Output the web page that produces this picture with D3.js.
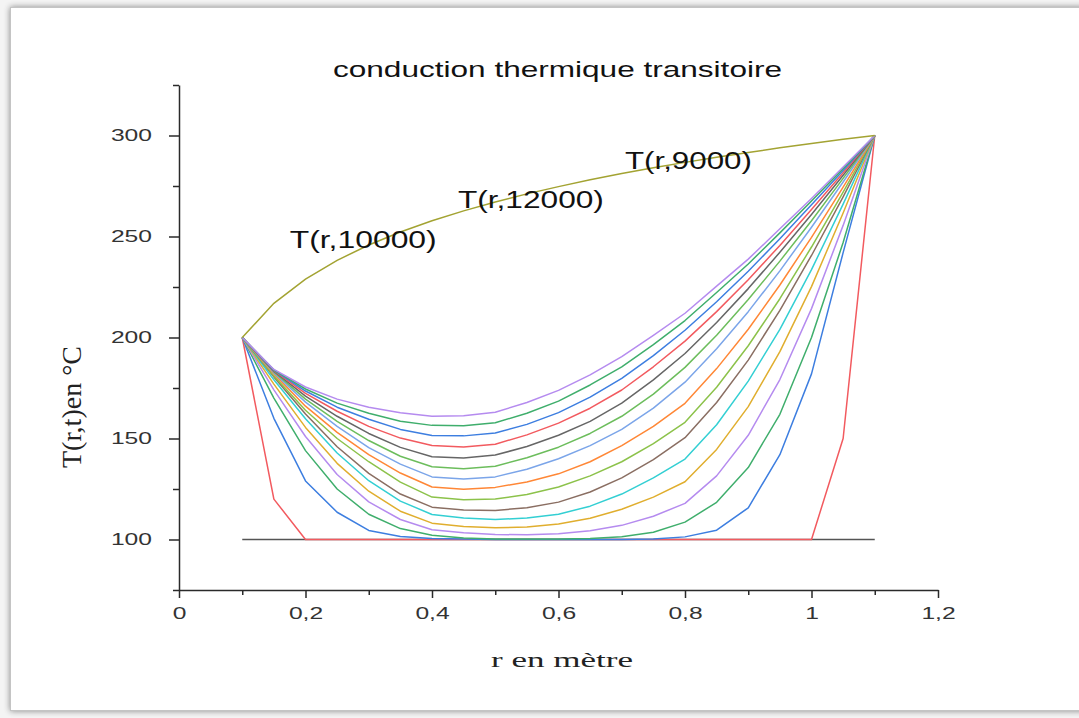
<!DOCTYPE html>
<html>
<head>
<meta charset="utf-8">
<script src="https://cdn.jsdelivr.net/npm/d3@7"></script>
<style>
  html, body { margin: 0; padding: 0; background: #f4f4f4; }
  svg { display: block; }
</style>
</head>
<body>
<svg id="chart" width="1079" height="718"></svg>
<script>
// ---------- data ----------
const rValues = [0.10,0.15,0.20,0.25,0.30,0.35,0.40,0.45,0.50,0.55,0.60,0.65,0.70,0.75,0.80,0.85,0.90,0.95,1.00,1.05,1.10];

const c1  = [200,120,100,100,100,100,100,100,100,100,100,100,100,100,100,100,100,100,100,150,300];
const c2  = [200,160,129,113.5,104.5,101.5,100.5,100.2,100,100,100,100,100,100.2,101.3,104.6,115.7,142,182,242,300];
const c3  = [200,170,144,125,112.5,105.4,102.1,100.7,100.3,100.2,100.3,100.5,101.4,103.6,108.6,118.4,135.6,162,200,247,300];
const c4  = [200,174.1,151,132.2,118.6,109.9,104.8,103.3,102.5,102.3,102.8,104.3,107,111.5,117.9,131.5,151.6,179.2,214.3,255.5,300];
const c5  = [200,176.9,155.5,137.7,123.9,114,108.1,106.4,105.8,106.2,107.7,110.5,115,121,128.6,144.6,165.8,193,225.2,261.6,300];
const c6  = [200,179.1,159.8,142.8,129.1,119,112.4,110.6,109.9,110.6,112.5,116.5,122.5,130.5,139.8,156.8,178.4,204,233.6,266,300];
const c7  = [200,180.5,162.1,145.9,132.7,122.5,116,114.6,114.4,115.7,118.5,123.5,130.5,139.5,150.4,167.8,188.8,213.4,240.6,269.6,300];
const c8  = [200,181,164,150,138.5,128.4,121,119.7,120,122.3,126,131.5,138.5,147.5,158,175.4,195.9,219.2,244.8,272,300];
const c9  = [200,182,166,153,142,132.9,126,124.9,125.8,128.5,132.5,138.5,146.5,156,167.4,184.6,204.1,226,249.6,274.4,300];
const c10 = [200,182.5,168,156,145.5,137.3,131,129.9,131,134.8,140,146.5,154.5,165,177.9,194.4,212.8,233,254.6,277,300];
const c11 = [200,183,169.5,158.5,149,141.2,136,135,136.3,140.5,145.7,152.5,161,172,185.2,201.1,218.8,237.8,257.8,278.8,300];
const c12 = [200,183.3,171,161,152.5,145.6,141,140.3,141.8,146,151.6,158.5,167.5,179,192.1,207.4,224.2,242.2,260.9,280.3,300];
const c13 = [200,183.6,172.3,163.5,156,150.2,146.5,145.8,147.2,151.8,157.6,165,174,185.5,198.2,212.8,228.6,245.6,263.4,281.6,300];
const c14 = [200,183.8,173.5,165.5,159.5,154.5,151.5,151.3,152.7,157,162.8,170.5,179.8,191,203.6,217.7,232.8,248.9,265.7,282.7,300];
const c15 = [200,184,174.5,167.5,162.5,158.5,156.5,156.3,157.8,162.5,168.5,176.5,185.5,196.5,208.4,222.3,236.4,251.8,267.6,283.6,300];
const c16 = [200,184.2,175.5,169.5,165.5,162.7,161,161.3,163,167.8,173.8,181.5,190.5,201,212,225.4,238.8,253.8,268.8,284.4,300];

const initialLine = [100,100];            // T = 100 at r = 0.1 and r = 1.1
const initialR    = [0.10,1.10];
const steady = [200,216.9,228.9,238.2,245.8,252.2,257.8,262.7,267.1,271.1,274.7,278.1,281.2,284.0,286.7,289.2,291.6,293.9,296.0,298.1,300];

const transient = [c1,c2,c3,c4,c5,c6,c7,c8,c9,c10,c11,c12,c13,c14,c15,c16];
const palette = ["#f25a5f","#3d7ee0","#3fae6c","#b58bef","#e0ae2e","#33cfd3","#8a6e62","#8cc24a","#ff8736","#7ba5e9","#6cbd5c","#666666"];

const xMajor = [0,0.2,0.4,0.6,0.8,1.0,1.2];
const xMinor = [0.1,0.3,0.5,0.7,0.9,1.1];
const yMajor = [100,150,200,250,300];
const yMinor = [75,125,175,225,275,325];

const annotations = [
  {text:"T(r,10000)", r:0.175, v:244.5, len:147},
  {text:"T(r,12000)", r:0.441, v:264.3, len:146},
  {text:"T(r,9000)",  r:0.705, v:283.2, len:127}
];

// ---------- drawing ----------
const svg = d3.select("#chart");
const defs = svg.append("defs");
const f = defs.append("filter").attr("id","sh").attr("x","-2%").attr("y","-2%").attr("width","104%").attr("height","104%");
f.append("feGaussianBlur").attr("in","SourceAlpha").attr("stdDeviation",3).attr("result","b");
f.append("feComponentTransfer").attr("in","b").attr("result","c")
  .append("feFuncA").attr("type","linear").attr("slope",0.45);
const fm = f.append("feMerge");
fm.append("feMergeNode").attr("in","c");
fm.append("feMergeNode").attr("in","SourceGraphic");

svg.append("rect").attr("x",10.5).attr("y",7.5).attr("width",1100).attr("height",703)
  .attr("fill","#ffffff").attr("stroke","#c4c4c4").attr("stroke-width",1).attr("filter","url(#sh)");

const x = d3.scaleLinear().domain([0,1.2]).range([179,938]);
const y = d3.scaleLinear().domain([75,325]).range([590,85]);

const fmt = d => d3.format(".1~f")(d).replace(".", ",");

// x axis
const gxMinor = svg.append("g").attr("transform","translate(0,590)")
  .call(d3.axisBottom(x).tickValues(xMinor).tickSize(5).tickFormat(""));
gxMinor.select(".domain").remove();
const gx = svg.append("g").attr("transform","translate(0,590)")
  .call(d3.axisBottom(x).tickValues(xMajor).tickSize(8).tickSizeOuter(0).tickFormat(fmt));

// y axis
const gyMinor = svg.append("g").attr("transform","translate(179,0)")
  .call(d3.axisLeft(y).tickValues(yMinor).tickSize(6).tickFormat(""));
gyMinor.select(".domain").remove();
const gy = svg.append("g").attr("transform","translate(179,0)")
  .call(d3.axisLeft(y).tickValues(yMajor).tickSize(10).tickSizeOuter(0));

[gx,gxMinor,gy,gyMinor].forEach(g => {
  g.selectAll("path, line").attr("stroke","#2a2a2a").attr("stroke-width",1.5);
});
gx.selectAll("text")
  .attr("font-family","'Liberation Sans', Arial, sans-serif").attr("font-size",17)
  .attr("fill","#333").attr("y",17)
  .attr("transform","scale(1.45,1)");
gy.selectAll("text")
  .attr("font-family","'Liberation Sans', Arial, sans-serif").attr("font-size",17)
  .attr("fill","#333").attr("x",0).attr("text-anchor","end")
  .attr("transform","translate(-27,0) scale(1.45,1)");

// lines
const line = d3.line().x((d,i)=>x(rValues[i])).y(d=>y(d));
const plot = svg.append("g");

plot.append("path")
  .attr("d", d3.line().x((d,i)=>x(initialR[i])).y(d=>y(d))(initialLine))
  .attr("fill","none").attr("stroke","#555").attr("stroke-width",1.3);

transient.forEach((s,k) => {
  plot.append("path").attr("d", line(s))
    .attr("fill","none").attr("stroke", palette[k % palette.length])
    .attr("stroke-width",1.5).attr("stroke-linejoin","round");
});

plot.append("path").attr("d", line(steady))
  .attr("fill","none").attr("stroke","#a3a332").attr("stroke-width",1.5);

// annotations
annotations.forEach(a => {
  svg.append("text").attr("x", x(a.r)).attr("y", y(a.v))
    .attr("font-family","'Liberation Sans', Arial, sans-serif").attr("font-size",23)
    .attr("fill","#111").attr("textLength",a.len).attr("lengthAdjust","spacingAndGlyphs")
    .text(a.text);
});

// title
svg.append("text").attr("x",333).attr("y",77)
  .attr("font-family","'Liberation Sans', Arial, sans-serif").attr("font-size",22)
  .attr("fill","#111").attr("textLength",449).attr("lengthAdjust","spacingAndGlyphs")
  .text("conduction thermique transitoire");

// x label
svg.append("text").attr("x",491).attr("y",667)
  .attr("font-family","'Liberation Serif', 'Times New Roman', serif").attr("font-size",22)
  .attr("fill","#222").attr("textLength",142).attr("lengthAdjust","spacingAndGlyphs")
  .text("r en mètre");

// y label
svg.append("text")
  .attr("transform","translate(81,407) scale(1.4,1) rotate(-90)")
  .attr("text-anchor","middle")
  .attr("font-family","'Liberation Serif', 'Times New Roman', serif").attr("font-size",19)
  .attr("fill","#222").attr("textLength",122).attr("lengthAdjust","spacingAndGlyphs")
  .text("T(r,t)en °C");
</script>
</body>
</html>
